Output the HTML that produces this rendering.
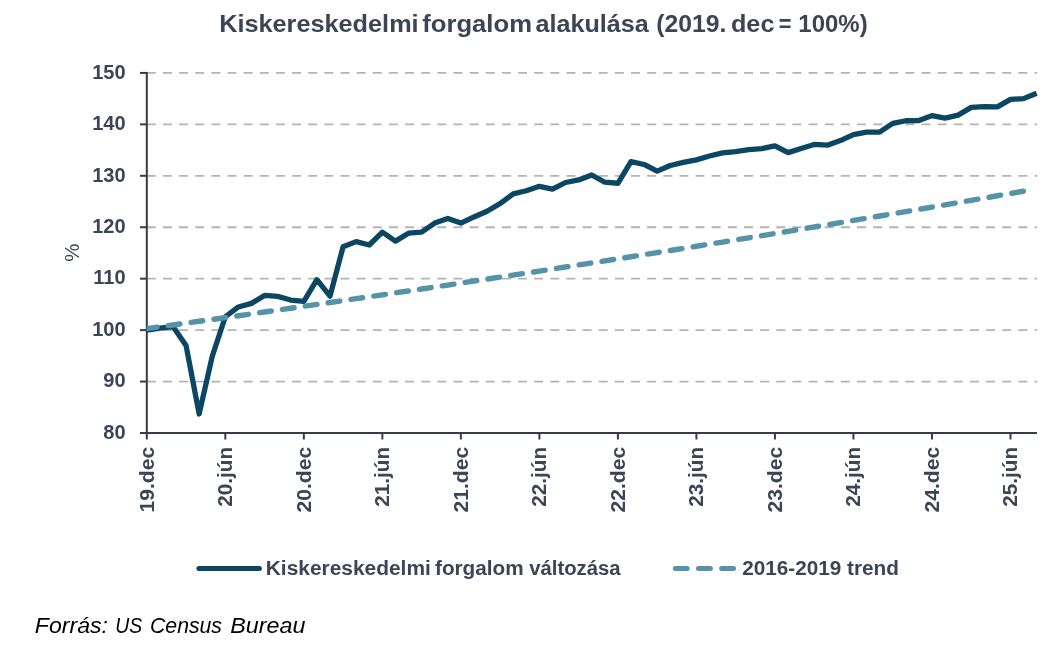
<!DOCTYPE html>
<html><head><meta charset="utf-8"><style>
html,body{margin:0;padding:0;background:#fff;}
body{width:1064px;height:647px;overflow:hidden;}
svg{display:block;will-change:transform;}
text{font-family:"Liberation Sans",sans-serif;}
.lb{font-size:20px;font-weight:bold;fill:#3b4555;}
.ttl{font-size:24.5px;font-weight:bold;fill:#3b4555;}
.src{font-family:"Liberation Sans",sans-serif;font-style:italic;font-size:22.5px;fill:#000;}
</style></head><body>
<svg width="1064" height="647" viewBox="0 0 1064 647">
<defs><clipPath id="pc"><rect x="146.6" y="60" width="900" height="380"/></clipPath></defs>
<line x1="146.8" y1="381.56" x2="1037" y2="381.56" stroke="#b4b4b4" stroke-width="1.8" stroke-dasharray="9 7.14"/>
<line x1="146.8" y1="330.12" x2="1037" y2="330.12" stroke="#b4b4b4" stroke-width="1.8" stroke-dasharray="9 7.14"/>
<line x1="146.8" y1="278.68" x2="1037" y2="278.68" stroke="#b4b4b4" stroke-width="1.8" stroke-dasharray="9 7.14"/>
<line x1="146.8" y1="227.24" x2="1037" y2="227.24" stroke="#b4b4b4" stroke-width="1.8" stroke-dasharray="9 7.14"/>
<line x1="146.8" y1="175.80" x2="1037" y2="175.80" stroke="#b4b4b4" stroke-width="1.8" stroke-dasharray="9 7.14"/>
<line x1="146.8" y1="124.36" x2="1037" y2="124.36" stroke="#b4b4b4" stroke-width="1.8" stroke-dasharray="9 7.14"/>
<line x1="146.8" y1="72.92" x2="1037" y2="72.92" stroke="#b4b4b4" stroke-width="1.8" stroke-dasharray="9 7.14"/>
<text x="125.6" y="438.80" text-anchor="end" class="lb">80</text>
<line x1="140" y1="433.00" x2="146.8" y2="433.00" stroke="#343d49" stroke-width="2"/>
<text x="125.6" y="387.36" text-anchor="end" class="lb">90</text>
<line x1="140" y1="381.56" x2="146.8" y2="381.56" stroke="#343d49" stroke-width="2"/>
<text x="125.6" y="335.92" text-anchor="end" class="lb">100</text>
<line x1="140" y1="330.12" x2="146.8" y2="330.12" stroke="#343d49" stroke-width="2"/>
<text x="125.6" y="284.48" text-anchor="end" class="lb">110</text>
<line x1="140" y1="278.68" x2="146.8" y2="278.68" stroke="#343d49" stroke-width="2"/>
<text x="125.6" y="233.04" text-anchor="end" class="lb">120</text>
<line x1="140" y1="227.24" x2="146.8" y2="227.24" stroke="#343d49" stroke-width="2"/>
<text x="125.6" y="181.60" text-anchor="end" class="lb">130</text>
<line x1="140" y1="175.80" x2="146.8" y2="175.80" stroke="#343d49" stroke-width="2"/>
<text x="125.6" y="130.16" text-anchor="end" class="lb">140</text>
<line x1="140" y1="124.36" x2="146.8" y2="124.36" stroke="#343d49" stroke-width="2"/>
<text x="125.6" y="78.72" text-anchor="end" class="lb">150</text>
<line x1="140" y1="72.92" x2="146.8" y2="72.92" stroke="#343d49" stroke-width="2"/>
<line x1="146.80" y1="433.0" x2="146.80" y2="439.5" stroke="#343d49" stroke-width="2"/>
<text transform="translate(153.70,446.9) rotate(-90)" text-anchor="end" class="lb" textLength="65.5" lengthAdjust="spacingAndGlyphs">19.dec</text>
<line x1="225.32" y1="433.0" x2="225.32" y2="439.5" stroke="#343d49" stroke-width="2"/>
<text transform="translate(232.22,446.9) rotate(-90)" text-anchor="end" class="lb" textLength="59.8" lengthAdjust="spacingAndGlyphs">20.jún</text>
<line x1="303.83" y1="433.0" x2="303.83" y2="439.5" stroke="#343d49" stroke-width="2"/>
<text transform="translate(310.73,446.9) rotate(-90)" text-anchor="end" class="lb" textLength="65.5" lengthAdjust="spacingAndGlyphs">20.dec</text>
<line x1="382.35" y1="433.0" x2="382.35" y2="439.5" stroke="#343d49" stroke-width="2"/>
<text transform="translate(389.25,446.9) rotate(-90)" text-anchor="end" class="lb" textLength="59.8" lengthAdjust="spacingAndGlyphs">21.jún</text>
<line x1="460.86" y1="433.0" x2="460.86" y2="439.5" stroke="#343d49" stroke-width="2"/>
<text transform="translate(467.76,446.9) rotate(-90)" text-anchor="end" class="lb" textLength="65.5" lengthAdjust="spacingAndGlyphs">21.dec</text>
<line x1="539.38" y1="433.0" x2="539.38" y2="439.5" stroke="#343d49" stroke-width="2"/>
<text transform="translate(546.28,446.9) rotate(-90)" text-anchor="end" class="lb" textLength="59.8" lengthAdjust="spacingAndGlyphs">22.jún</text>
<line x1="617.90" y1="433.0" x2="617.90" y2="439.5" stroke="#343d49" stroke-width="2"/>
<text transform="translate(624.80,446.9) rotate(-90)" text-anchor="end" class="lb" textLength="65.5" lengthAdjust="spacingAndGlyphs">22.dec</text>
<line x1="696.41" y1="433.0" x2="696.41" y2="439.5" stroke="#343d49" stroke-width="2"/>
<text transform="translate(703.31,446.9) rotate(-90)" text-anchor="end" class="lb" textLength="59.8" lengthAdjust="spacingAndGlyphs">23.jún</text>
<line x1="774.93" y1="433.0" x2="774.93" y2="439.5" stroke="#343d49" stroke-width="2"/>
<text transform="translate(781.83,446.9) rotate(-90)" text-anchor="end" class="lb" textLength="65.5" lengthAdjust="spacingAndGlyphs">23.dec</text>
<line x1="853.44" y1="433.0" x2="853.44" y2="439.5" stroke="#343d49" stroke-width="2"/>
<text transform="translate(860.34,446.9) rotate(-90)" text-anchor="end" class="lb" textLength="59.8" lengthAdjust="spacingAndGlyphs">24.jún</text>
<line x1="931.96" y1="433.0" x2="931.96" y2="439.5" stroke="#343d49" stroke-width="2"/>
<text transform="translate(938.86,446.9) rotate(-90)" text-anchor="end" class="lb" textLength="65.5" lengthAdjust="spacingAndGlyphs">24.dec</text>
<line x1="1010.48" y1="433.0" x2="1010.48" y2="439.5" stroke="#343d49" stroke-width="2"/>
<text transform="translate(1017.38,446.9) rotate(-90)" text-anchor="end" class="lb" textLength="59.8" lengthAdjust="spacingAndGlyphs">25.jún</text>
<line x1="146.8" y1="72" x2="146.8" y2="434.0" stroke="#343d49" stroke-width="2"/>
<line x1="140" y1="433.0" x2="1037" y2="433.0" stroke="#343d49" stroke-width="2"/>
<polyline points="146.80,330.12 159.89,328.06 172.97,326.52 186.06,345.55 199.14,413.97 212.23,356.35 225.32,316.75 238.40,306.97 251.49,303.37 264.57,295.40 277.66,296.43 290.75,300.03 303.83,301.31 316.92,279.71 330.00,296.17 343.09,246.79 356.18,241.64 369.26,244.99 382.35,232.13 395.43,241.13 408.52,233.16 421.61,232.13 434.69,223.12 447.78,218.50 460.86,223.12 473.95,216.95 487.04,211.29 500.12,203.58 513.21,193.80 526.29,190.72 539.38,186.35 552.47,189.17 565.55,182.49 578.64,179.92 591.72,175.03 604.81,182.23 617.90,183.26 630.98,161.65 644.07,164.48 657.15,171.17 670.24,165.51 683.33,162.43 696.41,159.85 709.50,156.00 722.58,152.91 735.67,151.62 748.76,149.57 761.84,148.54 774.93,145.96 788.01,152.65 801.10,148.54 814.19,144.42 827.27,145.19 840.36,140.56 853.44,134.65 866.53,132.08 879.62,132.08 892.70,123.33 905.79,120.76 918.87,120.50 931.96,115.62 945.05,118.19 958.13,115.10 971.22,107.38 984.30,106.61 997.39,106.87 1010.48,99.41 1023.56,98.64 1036.65,93.24" fill="none" stroke="#0b4763" stroke-width="5.3" stroke-linejoin="round"/>
<polyline points="146.80,328.61 159.89,326.79 172.97,324.96 186.06,323.13 199.14,321.29 212.23,319.44 225.32,317.59 238.40,315.73 251.49,313.86 264.57,311.98 277.66,310.10 290.75,308.22 303.83,306.32 316.92,304.42 330.00,302.52 343.09,300.60 356.18,298.68 369.26,296.75 382.35,294.82 395.43,292.88 408.52,290.93 421.61,288.98 434.69,287.01 447.78,285.05 460.86,283.07 473.95,281.09 487.04,279.10 500.12,277.10 513.21,275.10 526.29,273.09 539.38,271.07 552.47,269.05 565.55,267.01 578.64,264.97 591.72,262.93 604.81,260.87 617.90,258.81 630.98,256.74 644.07,254.67 657.15,252.59 670.24,250.50 683.33,248.40 696.41,246.29 709.50,244.18 722.58,242.06 735.67,239.93 748.76,237.80 761.84,235.66 774.93,233.51 788.01,231.35 801.10,229.18 814.19,227.01 827.27,224.83 840.36,222.64 853.44,220.45 866.53,218.24 879.62,216.03 892.70,213.81 905.79,211.59 918.87,209.35 931.96,207.11 945.05,204.86 958.13,202.60 971.22,200.33 984.30,198.06 997.39,195.78 1010.48,193.48 1023.56,191.19" fill="none" stroke="#5593a8" stroke-width="5.4" stroke-linecap="round" stroke-linejoin="round" stroke-dasharray="11.8 11.28" stroke-dashoffset="1.5" clip-path="url(#pc)"/>
<text x="219.18" y="32.3" class="ttl" textLength="199.44" lengthAdjust="spacingAndGlyphs">Kiskereskedelmi</text>
<text x="422.19" y="32.3" class="ttl" textLength="109.82" lengthAdjust="spacingAndGlyphs">forgalom</text>
<text x="535.60" y="32.3" class="ttl" textLength="113.21" lengthAdjust="spacingAndGlyphs">alakulása</text>
<text x="656.35" y="32.3" class="ttl" textLength="70.08" lengthAdjust="spacingAndGlyphs">(2019.</text>
<text x="730.95" y="32.3" class="ttl" textLength="43.49" lengthAdjust="spacingAndGlyphs">dec</text>
<text x="778.78" y="32.3" class="ttl" textLength="12.71" lengthAdjust="spacingAndGlyphs">=</text>
<text x="798.34" y="32.3" class="ttl" textLength="69.29" lengthAdjust="spacingAndGlyphs">100%)</text>
<text x="265.78" y="574.7" class="lb" textLength="165.05" lengthAdjust="spacingAndGlyphs">Kiskereskedelmi</text>
<text x="434.99" y="574.7" class="lb" textLength="88.63" lengthAdjust="spacingAndGlyphs">forgalom</text>
<text x="529.20" y="574.7" class="lb" textLength="91.41" lengthAdjust="spacingAndGlyphs">változása</text>
<text x="742.19" y="574.7" class="lb" textLength="99.22" lengthAdjust="spacingAndGlyphs">2016-2019</text>
<text x="847.00" y="574.7" class="lb" textLength="51.82" lengthAdjust="spacingAndGlyphs">trend</text>
<text x="34.78" y="632.5" class="src" textLength="73.24" lengthAdjust="spacingAndGlyphs">Forrás:</text>
<text x="115.16" y="632.5" class="src" textLength="26.90" lengthAdjust="spacingAndGlyphs">US</text>
<text x="149.99" y="632.5" class="src" textLength="72.01" lengthAdjust="spacingAndGlyphs">Census</text>
<text x="230.18" y="632.5" class="src" textLength="75.23" lengthAdjust="spacingAndGlyphs">Bureau</text>
<text transform="translate(78.9,252.7) rotate(-90)" text-anchor="middle" style="font-size:20.5px;fill:#3b4555">%</text>
<line x1="198.9" y1="568.4" x2="259.4" y2="568.4" stroke="#0b4763" stroke-width="5" stroke-linecap="round"/>
<line x1="675.3" y1="568.5" x2="733.5" y2="568.5" stroke="#5593a8" stroke-width="5" stroke-linecap="round" stroke-dasharray="11.9 11.3"/>
</svg>
</body></html>
